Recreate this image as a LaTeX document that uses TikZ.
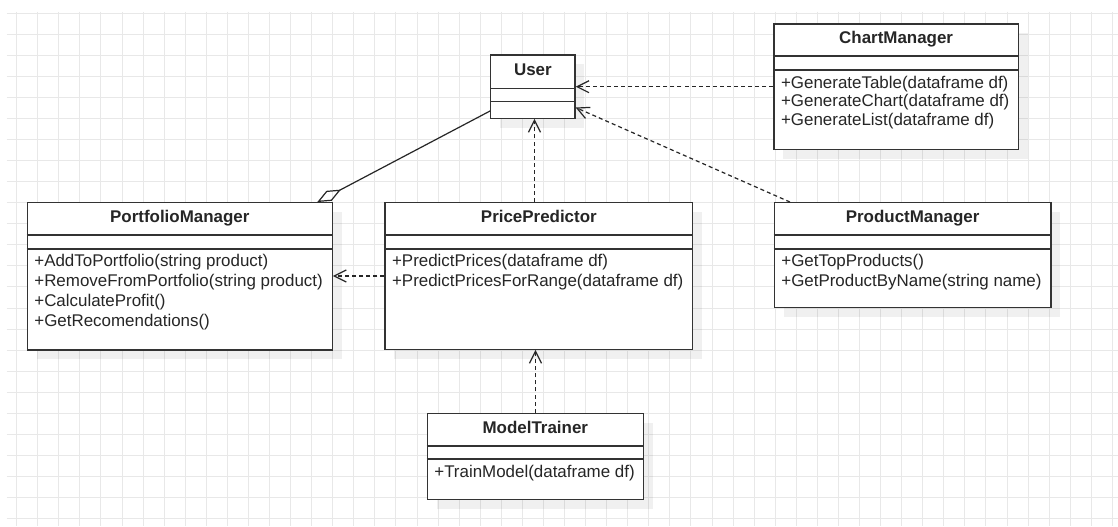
\documentclass[tikz,border=0pt]{standalone}
\usepackage{fontspec}
\setmainfont{Liberation Sans}
\usetikzlibrary{arrows.meta,shadows}
\newcommand{\umlclass}[8]{% name, x1, y1, x2, y2, header bottom, attr bottom, title
  \pgfmathsetmacro\clsW{(#4-#2)*0.75}%
  \pgfmathsetmacro\clsH{(#5-#3)*0.75}%
  \pgfmathsetmacro\clsT{(#3+#6)/2}%
  \node[classbox,minimum width=\clsW pt,minimum height=\clsH pt] (#1) at ({(#2+#4)/2},{(#3+#5)/2}) {};
  \draw[divider] (#1.west |- 0,#6) -- (#1.east |- 0,#6);
  \draw[divider] (#1.west |- 0,#7) -- (#1.east |- 0,#7);
  \node[title] (#1-title) at (#1.north |- 0,\clsT) {#8};
}
\newcommand{\umlop}[4]{% class, label name, y, text
  \node[method] (#1-#2) at ([xshift=5.6pt]#1.west |- 0,#3) {#4};
}
\begin{document}
\begin{tikzpicture}[x=0.75pt,y=-0.75pt,
  gridline/.style={draw=black!9,line width=0.75pt},
  classbox/.style={draw=black!80,line width=1pt,fill=white,inner sep=0pt,rectangle,
     drop shadow={shadow xshift=7pt,shadow yshift=-7pt,fill=black,opacity=0.06}},
  divider/.style={draw=black!80,line width=1pt},
  title/.style={font=\fontsize{12.7pt}{15pt}\selectfont\bfseries,text=black!85,inner sep=0pt,anchor=mid},
  method/.style={font=\fontsize{12.7pt}{15pt}\selectfont,text=black!85,inner sep=0pt,anchor=mid west},
  dep/.style={draw=black!85,line width=0.9pt,dash pattern=on 3pt off 2.3pt,
     -{Straight Barb[length=9pt,width=9pt,line width=0.9pt]}},
  agg/.style={draw=black!85,line width=0.9pt,
     {Diamond[open,length=20pt,width=8.5pt,line width=0.9pt]}-}
]
\useasboundingbox (0,0) rectangle (1118,526);
\fill[white] (0,0) rectangle (1118,526);
% grid
\foreach \i in {0,...,52} {\draw[gridline] ({16.7+21.07*\i},11.7) -- ({16.7+21.07*\i},526);}
\foreach \j in {0,...,24} {\draw[gridline] (6.7,{13.3+21.05*\j}) -- (1118,{13.3+21.05*\j});}

% classes
\umlclass{user}{490.7}{55}{575}{118.3}{88.3}{101.7}{User}

\umlclass{cm}{774}{24}{1018.3}{149.3}{56}{70}{ChartManager}
\umlop{cm}{m1}{85}{+GenerateTable(dataframe df)}
\umlop{cm}{m2}{103.3}{+GenerateChart(dataframe df)}
\umlop{cm}{m3}{121.7}{+GenerateList(dataframe df)}

\umlclass{pfm}{27.3}{202.7}{332.3}{350}{235}{249}{PortfolioManager}
\umlop{pfm}{m1}{262.5}{+AddToPortfolio(string product)}
\umlop{pfm}{m2}{283.3}{+RemoveFromPortfolio(string product)}
\umlop{pfm}{m3}{302.7}{+CalculateProfit()}
\umlop{pfm}{m4}{322.7}{+GetRecomendations()}

\umlclass{pp}{385}{202.7}{692.7}{349.3}{235}{249}{PricePredictor}
\umlop{pp}{m1}{263}{+PredictPrices(dataframe df)}
\umlop{pp}{m2}{283.3}{+PredictPricesForRange(dataframe df)}

\umlclass{prod}{774.3}{202.7}{1051}{307.3}{235}{249}{ProductManager}
\umlop{prod}{m1}{263}{+GetTopProducts()}
\umlop{prod}{m2}{283.3}{+GetProductByName(string name)}

\umlclass{mt}{427.3}{413.3}{643.3}{499.3}{446}{459}{ModelTrainer}
\umlop{mt}{m1}{474}{+TrainModel(dataframe df)}

% connectors
\draw[dep] (mt.north -| 535.5,0) -- (pp.south -| 535.5,0);
\draw[dep] (pp.north -| 534.5,0) -- (user.south -| 534.5,0);
\draw[dep] (cm.west |- 0,86.7) -- (user.east |- 0,86.7);
\draw[dep] (prod.north -| 790,0) -- (user.east |- 0,107.5);
\draw[dep] (pp.west |- 0,276) -- (pfm.east |- 0,276);
\draw[agg] (pfm.north -| 317.3,0) -- (user.west |- 0,111);
\end{tikzpicture}
\end{document}
